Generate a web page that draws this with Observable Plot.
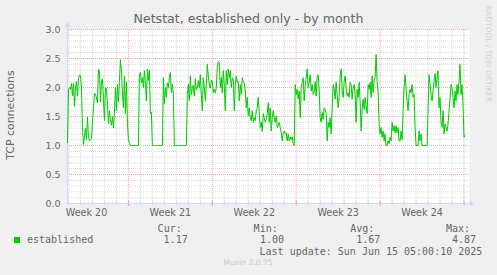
<!DOCTYPE html>
<html><head><meta charset="utf-8">
<script src="https://cdn.jsdelivr.net/npm/d3@7"></script>
<script src="https://cdn.jsdelivr.net/npm/@observablehq/plot@0.6"></script>
<style>
html,body{margin:0;padding:0;background:#f0f0f0;}
#wrap{position:relative;width:497px;height:275px;overflow:hidden;background:#f0f0f0;}
#wrap svg{position:absolute;left:0;top:0;}
.t{position:absolute;white-space:nowrap;}
</style></head><body><div id="wrap"></div>
<script>
// ---- data (one sample every 2 hours) ----
const title = "Netstat, established only - by month";
const yLabel = "TCP connections";
const seriesName = "established";
const weekLabels = ["Week 20", "Week 21", "Week 22", "Week 23", "Week 24"];
const yTickLabels = ["0.0", "0.5", "1.0", "1.5", "2.0", "2.5", "3.0"];
const statHeaders = ["Cur:", "Min:", "Avg:", "Max:"];
const statValues = ["1.17", "1.00", "1.67", "4.87"];
const lastUpdate = "Last update: Sun Jun 15 05:00:10 2025";
const footer = "Munin 2.0.75";
const sideText = "RRDTOOL / TOBI OETIKER";
const established = [
  1.05, 1.95, 2.0, 1.97, 2.07, 1.86, 2.07, 1.67, 2.0, 2.1,
  1.85, 2.16, 2.22, 2.2, 2.0, 1.31, 1.02, 1.15, 1.3, 1.1,
  1.49, 1.15, 1.08, 1.1, 1.12, 1.4, 1.65, 1.9, 1.88, 1.82,
  1.74, 2.31, 2.28, 1.75, 2.1, 2.15, 1.8, 1.43, 2.0, 1.98,
  1.7, 1.38, 1.6, 1.45, 1.35, 1.5, 1.3, 1.55, 2.0, 1.6,
  2.05, 1.75, 2.1, 2.48, 2.3, 1.9, 1.65, 2.2, 1.55, 2.1,
  1.4, 1.1, 1.05, 1.0, 1.0, 1.0, 1.0, 1.0, 1.0, 1.0,
  1.0, 1.0, 2.22, 2.26, 2.08, 2.17, 2.0, 2.29, 2.06, 1.77,
  2.32, 2.12, 2.3, 1.55, 1.57, 1.0, 1.0, 1.0, 1.0, 1.0,
  1.0, 1.0, 1.0, 1.0, 1.0, 1.0, 2.17, 1.72, 2.0, 1.83,
  2.08, 2.0, 2.17, 2.26, 1.91, 2.06, 1.88, 1.0, 1.0, 1.0,
  1.0, 1.0, 1.0, 1.0, 1.0, 1.0, 1.0, 1.0, 1.0, 1.0,
  1.88, 2.06, 1.77, 2.2, 1.88, 1.98, 2.04, 1.85, 2.15, 1.96,
  2.0, 2.12, 2.0, 2.22, 1.88, 1.6, 2.17, 2.0, 1.77, 2.05,
  2.4, 2.2, 2.05, 1.99, 2.13, 2.1, 1.91, 1.97, 1.91, 2.0,
  2.37, 2.45, 2.43, 2.0, 2.17, 1.91, 2.29, 2.05, 1.6, 2.29,
  2.05, 2.32, 2.17, 2.29, 2.0, 2.17, 2.13, 1.6, 2.05, 2.2,
  2.09, 2.1, 1.77, 2.05, 1.88, 2.17, 2.1, 2.08, 1.94, 1.65,
  1.83, 1.51, 1.65, 1.48, 1.43, 1.6, 1.4, 1.48, 1.43, 1.6,
  1.65, 1.83, 1.55, 1.31, 1.4, 1.24, 1.55, 1.48, 1.4, 1.46,
  1.55, 1.74, 1.4, 1.65, 1.25, 1.48, 1.6, 1.48, 1.4, 1.51,
  1.31, 1.34, 1.4, 1.31, 1.22, 1.08, 1.22, 1.25, 1.2, 1.22,
  1.08, 1.2, 1.08, 1.15, 1.1, 1.15, 1.03, 1.0, 2.05, 1.88,
  1.97, 1.8, 1.94, 1.48, 2.0, 2.09, 2.17, 1.77, 2.03, 2.17,
  2.32, 2.0, 2.1, 2.22, 1.94, 2.05, 1.88, 1.91, 2.1, 1.85,
  2.2, 2.22, 1.94, 1.48, 1.4, 1.57, 1.45, 1.65, 1.62, 1.55,
  1.08, 1.4, 1.31, 1.48, 1.2, 1.65, 2.05, 1.99, 1.8, 2.09,
  1.88, 1.65, 1.83, 2.2, 2.32, 1.94, 1.83, 2.1, 2.2, 2.0,
  1.85, 1.91, 1.83, 2.09, 2.05, 1.8, 2.0, 2.05, 1.88, 1.4,
  1.97, 1.83, 2.09, 1.77, 1.25, 1.62, 1.8, 1.62, 1.83, 1.68,
  1.55, 2.05, 1.97, 2.09, 1.83, 2.2, 1.91, 2.13, 2.17, 2.57,
  2.1, 1.94, 1.37, 1.2, 1.31, 1.14, 1.25, 1.08, 1.2, 1.0,
  1.0, 1.08, 1.03, 1.14, 1.08, 1.4, 1.25, 1.34, 1.22, 1.34,
  1.22, 1.31, 1.08, 1.08, 1.25, 1.1, 1.6, 2.0, 2.22, 1.99,
  1.77, 1.6, 1.88, 1.97, 1.91, 2.05, 1.83, 1.88, 1.31, 1.0,
  1.0, 1.0, 1.25, 1.08, 1.2, 1.0, 1.0, 1.0, 1.0, 1.0,
  1.0, 1.6, 2.22, 2.05, 1.88, 1.77, 1.94, 2.1, 2.24, 2.0,
  2.17, 2.29, 1.65, 1.83, 1.4, 1.31, 1.6, 1.2, 1.37, 1.31,
  1.25, 1.37, 1.6, 1.8, 2.05, 2.0, 1.83, 1.65, 1.94, 1.77,
  2.05, 1.88, 2.1, 2.4, 1.88, 2.05, 1.71, 1.14, 1.17
];
const startTime = Date.UTC(2025, 4, 12, 22);   // first sample
const endTime = Date.UTC(2025, 5, 15, 11);     // right edge of graph
const stepHours = 2;

// ---- derived tables ----
const start = new Date(startTime), end = new Date(endTime);
const data = established.map((v, i) => ({t: d3.utcHour.offset(start, i * stepHours), v}));
const days = d3.utcDay.range(start, end);
const weeks = d3.utcSunday.range(start, end);
const minorDays = days.filter(d => d.getUTCDay() !== 0);
const weekCenters = weeks.map(d => d3.utcHour.offset(d, -84));
const yMajor = yTickLabels.map(Number);
const yMinor = d3.range(1, 30).filter(i => i % 5 !== 0).map(i => i / 10);

const minorCol = "#dadada", majorCol = "#eea8a8", axisCol = "#CFD6F8";
const arrowUp = {draw(c) { c.moveTo(0, -7.3); c.lineTo(3, -2.3); c.lineTo(-3, -2.3); c.closePath(); }};
const arrowRight = {draw(c) { c.moveTo(5, 0); c.lineTo(0, -2.8); c.lineTo(0, 2.8); c.closePath(); }};

const chart = Plot.plot({
  width: 497, height: 275,
  marginLeft: 67, marginRight: 28, marginTop: 29, marginBottom: 72,
  x: {type: "utc", domain: [start, end], label: null},
  y: {domain: [0, 3], label: null},
  style: {background: "transparent", color: "#666", fontFamily: "DejaVu Sans", fontSize: "9.5px", overflow: "visible"},
  marks: [
    Plot.frame({fill: "white", stroke: "none"}),
    Plot.ruleY(yMinor, {stroke: minorCol, strokeDasharray: "1,1"}),
    Plot.ruleX(minorDays, {y1: 0, y2: 3, stroke: minorCol, strokeDasharray: "1,1"}),
    Plot.ruleY(yMajor.filter(v => v > 0), {stroke: majorCol, strokeDasharray: "1,1"}),
    Plot.ruleX(weeks, {y1: 0, y2: 3, stroke: majorCol, strokeDasharray: "1,1"}),
    Plot.ruleX(minorDays, {y1: -0.03, y2: 0.02, stroke: "#c8c8c8"}),
    Plot.ruleX(weeks, {y1: -0.05, y2: 0.03, stroke: "#e49090"}),
    Plot.ruleY([0], {x1: start, x2: end, stroke: axisCol}),
    Plot.ruleX([start], {y1: 0, y2: 3.04, stroke: axisCol}),
    Plot.dot([{t: start, v: 3}], {x: "t", y: "v", symbol: arrowUp, fill: axisCol, stroke: "none", r: 3}),
    Plot.dot([{t: end, v: 0}], {x: "t", y: "v", symbol: arrowRight, fill: axisCol, stroke: "none", r: 3}),
    Plot.line(data, {x: "t", y: "v", stroke: "#00CC00", strokeWidth: 1}),
    Plot.axisY(yMajor, {label: null, tickSize: 0, tickPadding: 7, fontSize: 9.5, tickFormat: d => yTickLabels[yMajor.indexOf(d)]}),
    Plot.axisX(weekCenters, {label: null, tickSize: 0, tickPadding: 6, fontSize: 9.6,
      tickFormat: d => weekLabels[weekCenters.findIndex(w => +w === +d)]})
  ]
});
const wrap = document.getElementById("wrap");
wrap.appendChild(chart);

// ---- texts outside the plot ----
function label(txt, x, base, o = {}) {
  const size = o.size || 10, fam = o.family || "DejaVu Sans Mono";
  const el = document.createElement("div");
  el.className = "t";
  el.textContent = txt;
  el.style.fontFamily = `"${fam}"`;
  el.style.fontSize = size + "px";
  el.style.lineHeight = (size * 1.164) + "px";
  el.style.color = o.color || "#666";
  el.style.top = (base - 0.928 * size) + "px";
  if (o.anchor === "end") el.style.right = (497 - x) + "px";
  else if (o.anchor === "middle") { el.style.left = x + "px"; el.style.transform = "translateX(-50%)"; }
  else el.style.left = x + "px";
  wrap.appendChild(el);
  return el;
}
function rotated(txt, cx, cy, deg, size, color) {
  const el = document.createElement("div");
  el.className = "t";
  el.textContent = txt;
  el.style.fontFamily = '"DejaVu Sans"';
  el.style.fontSize = size + "px";
  el.style.lineHeight = (size * 1.164) + "px";
  el.style.color = color;
  el.style.left = cx + "px";
  el.style.top = cy + "px";
  el.style.transform = `translate(-50%,-50%) rotate(${deg}deg)`;
  wrap.appendChild(el);
}
label(title, 248.5, 24, {size: 12.6, family: "DejaVu Sans", anchor: "middle"});
rotated(yLabel, 11.2, 115, -90, 10.9, "#666");
rotated(sideText, 487.6, 53.5, 90, 7.5, "#d0d0d0");

// legend
const sw = document.createElement("div");
sw.className = "t";
Object.assign(sw.style, {left: "14px", top: "237px", width: "6px", height: "6px", background: "#00CC00"});
wrap.appendChild(sw);
label(seriesName, 27, 243);
const hdrRight = [181.7, 277.7, 374.3, 470];
const valRight = [187.7, 284, 380.3, 476];
statHeaders.forEach((h, i) => label(h, hdrRight[i], 232, {anchor: "end"}));
statValues.forEach((v, i) => label(v, valRight[i], 243, {anchor: "end"}));
label(lastUpdate, 482.3, 255.5, {anchor: "end"});
label(footer, 248, 266, {size: 7.5, family: "DejaVu Sans", anchor: "middle", color: "#c8c8c8"});
</script></body></html>
